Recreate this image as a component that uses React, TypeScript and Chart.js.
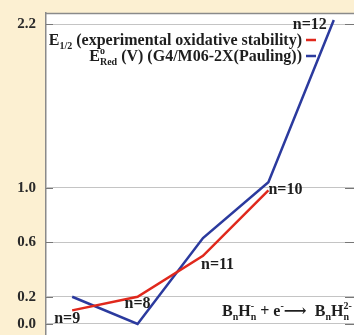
import React, { useEffect, useRef } from "react";
import { Chart, registerables } from "chart.js";

Chart.register(...registerables);

// ---- data ----
const categories = ["n=9", "n=8", "n=11", "n=10", "n=12"];
const expX = [0, 1, 2, 3];
const expValues = [0.1, 0.2, 0.5, 0.98];
const calcX = [0, 1, 2, 3, 4];
const calcValues = [0.2, 0.0, 0.63, 1.04, 2.23];
const yTickValues = [0.0, 0.2, 0.6, 1.0, 2.2];
const legendTexts = [" (experimental oxidative stability)", " (V) (G4/M06-2X(Pauling))"];

const SERIF = '"Liberation Serif", "Times New Roman", "DejaVu Serif", serif';
const RED = "#e0281c";
const BLUE = "#2b3a9e";
const CREAM = "#fcf0d2";
const TEXT = "#1e1e1e";

type Seg =
  | { t: string; size: number; dy?: number }
  | { sup: string; sub: string; size: number };

function font(size: number) {
  return `bold ${size}px ${SERIF}`;
}

function segWidth(ctx: CanvasRenderingContext2D, s: Seg) {
  ctx.font = font(s.size);
  if ("t" in s) return ctx.measureText(s.t).width;
  return Math.max(ctx.measureText(s.sup).width, ctx.measureText(s.sub).width);
}

function drawRich(
  ctx: CanvasRenderingContext2D,
  segs: Seg[],
  x: number,
  baseline: number,
  align: "left" | "right"
) {
  const total = segs.reduce((a, s) => a + segWidth(ctx, s), 0);
  let cx = align === "right" ? x - total : x;
  ctx.textAlign = "left";
  ctx.textBaseline = "alphabetic";
  for (const s of segs) {
    const w = segWidth(ctx, s);
    ctx.font = font(s.size);
    if ("t" in s) {
      ctx.fillText(s.t, cx, baseline + (s.dy || 0));
    } else {
      ctx.fillText(s.sup, cx, baseline - s.size * 0.7);
      ctx.fillText(s.sub, cx, baseline + s.size * 0.4);
    }
    cx += w;
  }
  return total;
}

const pointLabels = [
  { ds: 0, i: 0, dx: -5, dy: 8, align: "center" },
  { ds: 0, i: 1, dx: 0, dy: 7, align: "center" },
  { ds: 0, i: 2, dx: -2, dy: 9, align: "left" },
  { ds: 1, i: 3, dx: 0, dy: 8, align: "left" },
  { ds: 1, i: 4, dx: -7, dy: 5, align: "right" },
];

const decorPlugin = {
  id: "decor",
  beforeDraw(chart: any) {
    const { ctx, chartArea: a, width, height } = chart;
    ctx.save();
    ctx.fillStyle = CREAM;
    ctx.fillRect(0, 0, width, height);
    ctx.fillStyle = "#ffffff";
    ctx.fillRect(a.left, a.top, a.right - a.left, a.bottom - a.top);
    ctx.restore();
  },
  afterDraw(chart: any) {
    const { ctx, chartArea: a } = chart;
    const y = chart.scales.y;
    ctx.save();
    // top border
    ctx.strokeStyle = "#8a8a8a";
    ctx.lineWidth = 1.5;
    ctx.beginPath();
    ctx.moveTo(a.left, a.top + 0.5);
    ctx.lineTo(a.right, a.top + 0.5);
    ctx.stroke();
    // inside tick marks
    ctx.strokeStyle = "#777";
    ctx.lineWidth = 1;
    for (const v of yTickValues) {
      const py = Math.round(y.getPixelForValue(v)) + 0.5;
      ctx.beginPath();
      ctx.moveTo(a.left, py);
      ctx.lineTo(a.left + 7, py);
      ctx.moveTo(a.right - 13, py);
      ctx.lineTo(a.right - 4, py);
      ctx.stroke();
    }

    // point labels
    ctx.fillStyle = TEXT;
    ctx.font = font(16);
    ctx.textBaseline = "middle";
    pointLabels.forEach((p, k) => {
      const el = chart.getDatasetMeta(p.ds).data[p.i];
      if (!el) return;
      ctx.textAlign = p.align as CanvasTextAlign;
      ctx.fillText(categories[k], el.x + p.dx, el.y + p.dy);
    });

    // legend
    const right = 302;
    ctx.fillStyle = TEXT;
    drawRich(
      ctx,
      [
        { t: "E", size: 16 },
        { t: "1/2", size: 10, dy: 4 },
        { t: legendTexts[0], size: 16 },
      ],
      right,
      45,
      "right"
    );
    drawRich(
      ctx,
      [
        { t: "E", size: 16 },
        { sup: "o", sub: "Red", size: 10 },
        { t: legendTexts[1], size: 16 },
      ],
      right,
      61,
      "right"
    );
    ctx.lineWidth = 2.5;
    ctx.strokeStyle = RED;
    ctx.beginPath();
    ctx.moveTo(306, 40);
    ctx.lineTo(316, 40);
    ctx.stroke();
    ctx.strokeStyle = BLUE;
    ctx.beginPath();
    ctx.moveTo(306, 56);
    ctx.lineTo(316, 56);
    ctx.stroke();

    // reaction formula
    ctx.fillStyle = TEXT;
    drawRich(
      ctx,
      [
        { t: "B", size: 16 },
        { t: "n", size: 10, dy: 4 },
        { t: "H", size: 16 },
        { sup: "-", sub: "n", size: 10 },
        { t: " + e", size: 16 },
        { t: "-", size: 10, dy: -7 },
        { t: "⟶  B", size: 16 },
        { t: "n", size: 10, dy: 4 },
        { t: "H", size: 16 },
        { sup: "2-", sub: "n", size: 10 },
      ],
      222,
      316,
      "left"
    );
    ctx.restore();
  },
};

export default function App() {
  const ref = useRef<HTMLCanvasElement | null>(null);

  useEffect(() => {
    if (!ref.current) return;
    const chart = new Chart(ref.current, {
      type: "line",
      data: {
        datasets: [
          {
            label: "E1/2 (experimental oxidative stability)",
            data: expX.map((x, i) => ({ x, y: expValues[i] })),
            borderColor: RED,
            borderWidth: 2.5,
            pointRadius: 0,
            fill: false,
            tension: 0,
          },
          {
            label: "E°Red (V) (G4/M06-2X(Pauling))",
            data: calcX.map((x, i) => ({ x, y: calcValues[i] })),
            borderColor: BLUE,
            borderWidth: 2.5,
            pointRadius: 0,
            fill: false,
            tension: 0,
          },
        ],
      },
      options: {
        responsive: false,
        animation: false,
        layout: { autoPadding: false, padding: { top: 13, right: 0, bottom: 0, left: 0 } },
        plugins: { legend: { display: false }, tooltip: { enabled: false } },
        scales: {
          x: {
            type: "linear",
            display: false,
            min: -0.4,
            max: 4.37,
          },
          y: {
            type: "linear",
            min: -0.0807,
            max: 2.2807,
            afterBuildTicks: (scale: any) => {
              scale.ticks = yTickValues.map((v) => ({ value: v }));
            },
            afterFit: (scale: any) => {
              scale.width = 46;
              scale.paddingTop = 0;
              scale.paddingBottom = 0;
            },
            ticks: {
              padding: 10,
              color: "#2a2a2a",
              font: { family: SERIF, size: 15, weight: "bold" },
              callback: (v: any) => Number(v).toFixed(1),
            },
            grid: { color: "#c4c4c4", drawTicks: false, lineWidth: 1 },
            border: { color: "#8a8a8a", width: 1.5 },
          },
        },
      },
      plugins: [decorPlugin],
    });
    return () => chart.destroy();
  }, []);

  return (
    <div
      style={{
        position: "fixed",
        left: 0,
        top: 0,
        width: 354,
        height: 335,
        overflow: "hidden",
        background: CREAM,
      }}
    >
      <canvas ref={ref} width={358} height={335} style={{ display: "block" }} />
    </div>
  );
}
